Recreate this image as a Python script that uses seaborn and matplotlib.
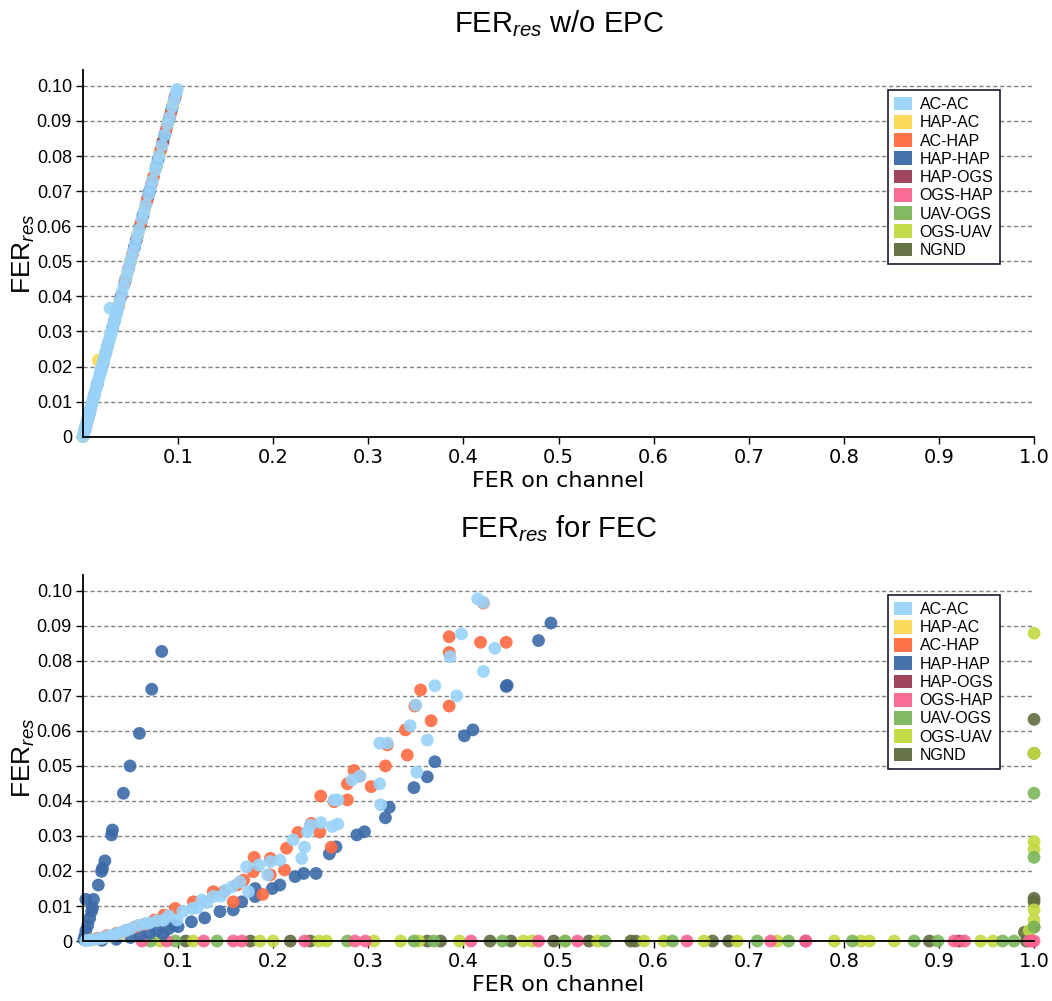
import matplotlib
matplotlib.use("Agg")
import matplotlib.pyplot as plt
import seaborn as sns
import pandas as pd
from matplotlib.patches import Patch
from matplotlib.ticker import FixedLocator, FuncFormatter

sns.set_theme(style="white")
plt.rcParams["font.family"] = ["Liberation Sans", "DejaVu Sans"]
plt.rcParams["mathtext.fontset"] = "custom"
plt.rcParams["mathtext.rm"] = "Liberation Sans"
plt.rcParams["mathtext.it"] = "Liberation Sans:italic"
for key in ("text.color", "axes.labelcolor", "xtick.color", "ytick.color"):
    plt.rcParams[key] = "black"

# ---- link types and colours -------------------------------------------------
LINKS = ["AC-AC", "HAP-AC", "AC-HAP", "HAP-HAP", "HAP-OGS",
         "OGS-HAP", "UAV-OGS", "OGS-UAV", "NGND"]
COLORS = ["#99d3fa", "#fdd853", "#fe6b40", "#3b6aa8", "#9a3b55",
          "#fb6490", "#7bb65a", "#c3d940", "#5f6d3e"]
# drawing order (last one ends up on top)
DRAW_ORDER = ["NGND", "OGS-UAV", "UAV-OGS", "HAP-OGS", "OGS-HAP",
              "HAP-HAP", "HAP-AC", "AC-HAP", "AC-AC"]
MARK_ALPHA = 0.9

# ---- upper panel: residual FER without EPC ----------------------------------
TOP_AC_AC_X = [0.000, 0.001, 0.002, 0.003, 0.004, 0.005, 0.006, 0.007, 0.008, 0.009,
               0.010, 0.011, 0.012, 0.013, 0.014, 0.015, 0.016, 0.017, 0.018, 0.019,
               0.020, 0.021, 0.022, 0.023, 0.024, 0.025, 0.026, 0.027, 0.028, 0.029,
               0.030, 0.031, 0.032, 0.033, 0.034, 0.035, 0.036, 0.037, 0.039, 0.041,
               0.043, 0.045, 0.047, 0.049, 0.051, 0.053, 0.055, 0.057, 0.059, 0.062,
               0.064, 0.066, 0.069, 0.071, 0.073, 0.076, 0.078, 0.080, 0.083, 0.086,
               0.089, 0.091, 0.094, 0.096, 0.098, 0.099, 0.0284]
TOP_AC_AC_Y = [0.000, 0.001, 0.002, 0.003, 0.004, 0.005, 0.006, 0.007, 0.008, 0.009,
               0.010, 0.011, 0.012, 0.013, 0.014, 0.015, 0.016, 0.017, 0.018, 0.019,
               0.020, 0.021, 0.022, 0.023, 0.024, 0.025, 0.026, 0.027, 0.028, 0.029,
               0.030, 0.031, 0.032, 0.033, 0.034, 0.035, 0.036, 0.037, 0.039, 0.041,
               0.043, 0.045, 0.047, 0.049, 0.051, 0.053, 0.055, 0.057, 0.059, 0.062,
               0.064, 0.066, 0.069, 0.071, 0.073, 0.076, 0.078, 0.080, 0.083, 0.086,
               0.089, 0.091, 0.094, 0.096, 0.098, 0.099, 0.0366]
TOP_HAP_AC_X = [0.000, 0.004, 0.009, 0.0161, 0.027, 0.038, 0.046, 0.058, 0.065, 0.074, 0.081, 0.089, 0.095]
TOP_HAP_AC_Y = [0.000, 0.004, 0.009, 0.0218, 0.027, 0.038, 0.046, 0.058, 0.065, 0.074, 0.081, 0.089, 0.095]
TOP_AC_HAP_X = [0.003, 0.012, 0.024, 0.037, 0.044, 0.052, 0.061, 0.067, 0.074, 0.082, 0.088, 0.092, 0.097]
TOP_AC_HAP_Y = [0.003, 0.012, 0.024, 0.037, 0.044, 0.052, 0.061, 0.067, 0.074, 0.082, 0.088, 0.092, 0.097]
TOP_HAP_HAP_X = [0.002, 0.015, 0.031, 0.045, 0.054, 0.063, 0.070, 0.079, 0.086, 0.093, 0.096]
TOP_HAP_HAP_Y = [0.002, 0.015, 0.031, 0.045, 0.054, 0.063, 0.070, 0.079, 0.086, 0.093, 0.096]
TOP_HAP_OGS_X = [0.006, 0.021, 0.040, 0.056, 0.068, 0.084, 0.091, 0.097]
TOP_HAP_OGS_Y = [0.006, 0.021, 0.040, 0.056, 0.068, 0.084, 0.091, 0.097]
TOP_OGS_HAP_X = [0.008, 0.026, 0.048, 0.072, 0.087]
TOP_OGS_HAP_Y = [0.008, 0.026, 0.048, 0.072, 0.087]
TOP_UAV_OGS_X = [0.005, 0.019, 0.035, 0.057, 0.077, 0.090]
TOP_UAV_OGS_Y = [0.005, 0.019, 0.035, 0.057, 0.077, 0.090]
TOP_OGS_UAV_X = [0.011, 0.029, 0.050, 0.069, 0.085]
TOP_OGS_UAV_Y = [0.011, 0.029, 0.050, 0.069, 0.085]
TOP_NGND_X = [0.007, 0.033, 0.060, 0.081, 0.094]
TOP_NGND_Y = [0.007, 0.033, 0.060, 0.081, 0.094]

# ---- lower panel: residual FER with FEC -------------------------------------
BOT_AC_AC_X = [0.415, 0.421, 0.398, 0.433, 0.386, 0.421, 0.370, 0.393, 0.350, 0.344,
               0.362, 0.312, 0.320, 0.351, 0.312, 0.291, 0.283, 0.313, 0.264, 0.268,
               0.250, 0.262, 0.268, 0.236, 0.233, 0.230, 0.239, 0.221, 0.207, 0.197,
               0.194, 0.185, 0.172, 0.174, 0.165, 0.157, 0.137, 0.125, 0.115, 0.099,
               0.085, 0.066, 0.058, 0.050, 0.045, 0.040, 0.035, 0.030, 0.025, 0.020,
               0.015, 0.010, 0.006, 0.003, 0.070, 0.078, 0.090, 0.105, 0.120, 0.130,
               0.145, 0.150]
BOT_AC_AC_Y = [0.0977, 0.0967, 0.0877, 0.0836, 0.0812, 0.0770, 0.0729, 0.0700, 0.0674, 0.0615,
               0.0574, 0.0565, 0.0565, 0.0482, 0.0449, 0.0471, 0.0460, 0.0389, 0.0403, 0.0403,
               0.0338, 0.0327, 0.0334, 0.0312, 0.0268, 0.0236, 0.0331, 0.0289, 0.0231, 0.0227,
               0.0189, 0.0217, 0.0212, 0.0141, 0.0169, 0.0155, 0.0127, 0.0117, 0.0093, 0.0060,
               0.0060, 0.0050, 0.0045, 0.0035, 0.0030, 0.0025, 0.0020, 0.0016, 0.0012, 0.0009,
               0.0006, 0.0004, 0.0002, 0.0001, 0.0052, 0.0058, 0.0072, 0.0085, 0.0095, 0.0110,
               0.0128, 0.0145]
BOT_HAP_AC_X = [0.010, 0.020, 0.030, 0.040]
BOT_HAP_AC_Y = [0.0003, 0.0008, 0.0014, 0.0022]
BOT_AC_HAP_X = [0.421, 0.385, 0.418, 0.445, 0.385, 0.355, 0.385, 0.349, 0.366, 0.339,
                0.320, 0.341, 0.318, 0.285, 0.291, 0.278, 0.303, 0.250, 0.264, 0.278,
                0.240, 0.249, 0.261, 0.226, 0.214, 0.212, 0.197, 0.197, 0.180, 0.179,
                0.189, 0.169, 0.162, 0.158, 0.148, 0.137, 0.116, 0.097, 0.085, 0.075,
                0.065, 0.055, 0.045, 0.035, 0.025, 0.015, 0.008]
BOT_AC_HAP_Y = [0.0965, 0.0869, 0.0853, 0.0853, 0.0824, 0.0717, 0.0671, 0.0671, 0.0629, 0.0603,
                0.0560, 0.0531, 0.0500, 0.0487, 0.0471, 0.0449, 0.0441, 0.0414, 0.0398, 0.0403,
                0.0336, 0.0311, 0.0268, 0.0310, 0.0265, 0.0203, 0.0189, 0.0236, 0.0239, 0.0198,
                0.0133, 0.0174, 0.0160, 0.0112, 0.0141, 0.0141, 0.0112, 0.0093, 0.0074, 0.0060,
                0.0048, 0.0040, 0.0030, 0.0022, 0.0015, 0.0008, 0.0004]
BOT_HAP_HAP_X = [0.0828, 0.0723, 0.0593, 0.0495, 0.0425, 0.031, 0.030, 0.023, 0.0205, 0.0195,
                 0.0161, 0.011, 0.003, 0.010, 0.009, 0.007, 0.005, 0.003, 0.002, 0.001,
                 0.084, 0.100, 0.114, 0.128, 0.144, 0.158, 0.167, 0.181, 0.181, 0.199,
                 0.207, 0.223, 0.232, 0.245, 0.259, 0.266, 0.288, 0.296, 0.318, 0.322,
                 0.348, 0.362, 0.370, 0.401, 0.410, 0.445, 0.446, 0.479, 0.492,
                 0.020, 0.035, 0.050, 0.060, 0.070, 0.078, 0.090, 0.095]
BOT_HAP_HAP_Y = [0.0827, 0.0719, 0.0593, 0.0500, 0.0422, 0.0317, 0.0303, 0.0229, 0.0208, 0.0199,
                 0.0160, 0.0119, 0.0119, 0.0095, 0.0085, 0.0065, 0.0045, 0.0030, 0.0015, 0.0005,
                 0.0020, 0.0041, 0.0055, 0.0066, 0.0084, 0.0089, 0.0112, 0.0127, 0.0150, 0.0150,
                 0.0160, 0.0184, 0.0193, 0.0193, 0.0249, 0.0269, 0.0303, 0.0312, 0.0352, 0.0382,
                 0.0438, 0.0469, 0.0512, 0.0586, 0.0603, 0.0727, 0.0730, 0.0858, 0.0908,
                 0.0002, 0.0005, 0.0010, 0.0015, 0.0022, 0.0030, 0.0035, 0.0045]
BOT_HAP_OGS_X = [0.760, 0.921, 0.998]
BOT_HAP_OGS_Y = [0.0, 0.0, 0.0]
BOT_OGS_HAP_X = [0.062, 0.088, 0.127, 0.158, 0.167, 0.233, 0.286, 0.297, 0.408, 0.479,
                 0.520, 0.635, 0.723, 0.760, 0.916, 0.927, 0.995, 1.000]
BOT_OGS_HAP_Y = [0.0, 0.0, 0.0, 0.0, 0.0, 0.0, 0.0, 0.0, 0.0, 0.0,
                 0.0, 0.0, 0.0, 0.0, 0.0, 0.0, 0.0, 0.0]
BOT_UAV_OGS_X = [0.071, 0.097, 0.141, 0.278, 0.348, 0.369, 0.441, 0.507, 0.549, 0.620,
                 0.709, 0.742, 0.809, 0.874, 0.899, 0.967, 0.979, 1.000, 1.000, 1.000]
BOT_UAV_OGS_Y = [0.0, 0.0, 0.0, 0.0, 0.0, 0.0, 0.0, 0.0, 0.0, 0.0,
                 0.0, 0.0, 0.0, 0.0, 0.0, 0.0, 0.0, 0.0422, 0.0239, 0.0040]
BOT_OGS_UAV_X = [0.081, 0.116, 0.186, 0.200, 0.248, 0.256, 0.306, 0.334, 0.353, 0.396,
                 0.463, 0.472, 0.507, 0.541, 0.590, 0.611, 0.653, 0.688, 0.730, 0.790,
                 0.818, 0.827, 0.853, 0.944, 0.957, 1.000, 1.000, 1.000, 1.000, 1.000,
                 1.000, 0.995]
BOT_OGS_UAV_Y = [0.0, 0.0, 0.0, 0.0, 0.0, 0.0, 0.0, 0.0, 0.0, 0.0,
                 0.0, 0.0, 0.0, 0.0, 0.0, 0.0, 0.0, 0.0, 0.0, 0.0,
                 0.0, 0.0, 0.0, 0.0, 0.0, 0.0879, 0.0536, 0.0284, 0.0262, 0.0089,
                 0.0060, 0.0030]
BOT_NGND_X = [0.108, 0.176, 0.218, 0.239, 0.362, 0.376, 0.428, 0.450, 0.495, 0.532,
              0.576, 0.581, 0.662, 0.679, 0.890, 0.992, 1.000, 1.000, 1.000, 1.000,
              1.000, 0.990]
BOT_NGND_Y = [0.0, 0.0, 0.0, 0.0, 0.0, 0.0, 0.0, 0.0, 0.0, 0.0,
              0.0, 0.0, 0.0, 0.0, 0.0, 0.0, 0.0633, 0.0536, 0.0122, 0.0112,
              0.0040, 0.0025]

Y_TICKS = [0.00, 0.01, 0.02, 0.03, 0.04, 0.05, 0.06, 0.07, 0.08, 0.09, 0.10]
X_TICKS = [0.1, 0.2, 0.3, 0.4, 0.5, 0.6, 0.7, 0.8, 0.9, 1.0]


def build_frame(series):
    rows = []
    for name in DRAW_ORDER:
        xs, ys = series[name]
        for x, y in zip(xs, ys):
            rows.append({"chan": x, "res": y, "link": name})
    return pd.DataFrame(rows)


top_df = build_frame({
    "AC-AC": (TOP_AC_AC_X, TOP_AC_AC_Y), "HAP-AC": (TOP_HAP_AC_X, TOP_HAP_AC_Y),
    "AC-HAP": (TOP_AC_HAP_X, TOP_AC_HAP_Y), "HAP-HAP": (TOP_HAP_HAP_X, TOP_HAP_HAP_Y),
    "HAP-OGS": (TOP_HAP_OGS_X, TOP_HAP_OGS_Y), "OGS-HAP": (TOP_OGS_HAP_X, TOP_OGS_HAP_Y),
    "UAV-OGS": (TOP_UAV_OGS_X, TOP_UAV_OGS_Y), "OGS-UAV": (TOP_OGS_UAV_X, TOP_OGS_UAV_Y),
    "NGND": (TOP_NGND_X, TOP_NGND_Y),
})
bot_df = build_frame({
    "AC-AC": (BOT_AC_AC_X, BOT_AC_AC_Y), "HAP-AC": (BOT_HAP_AC_X, BOT_HAP_AC_Y),
    "AC-HAP": (BOT_AC_HAP_X, BOT_AC_HAP_Y), "HAP-HAP": (BOT_HAP_HAP_X, BOT_HAP_HAP_Y),
    "HAP-OGS": (BOT_HAP_OGS_X, BOT_HAP_OGS_Y), "OGS-HAP": (BOT_OGS_HAP_X, BOT_OGS_HAP_Y),
    "UAV-OGS": (BOT_UAV_OGS_X, BOT_UAV_OGS_Y), "OGS-UAV": (BOT_OGS_UAV_X, BOT_OGS_UAV_Y),
    "NGND": (BOT_NGND_X, BOT_NGND_Y),
})

palette = dict(zip(LINKS, COLORS))

fig = plt.figure(figsize=(10.52, 10.01), dpi=100)
ax_top = fig.add_axes([0.0789, 0.5637, 0.904, 0.3663])
ax_bot = fig.add_axes([0.0789, 0.0599, 0.904, 0.3656])


def style_axis(ax, title):
    ax.set_xlim(0, 1.0)
    ax.set_ylim(0, 0.1045)
    ax.xaxis.set_major_locator(FixedLocator(X_TICKS))
    ax.yaxis.set_major_locator(FixedLocator(Y_TICKS))
    ax.xaxis.set_major_formatter(FuncFormatter(lambda v, p: f"{v:.1f}"))
    ax.yaxis.set_major_formatter(FuncFormatter(lambda v, p: "0" if abs(v) < 1e-9 else f"{v:.2f}"))
    ax.yaxis.grid(True, linestyle=(0, (3, 2)), color="#808080", linewidth=1.0)
    ax.xaxis.grid(False)
    ax.set_axisbelow(True)
    for side in ("top", "right"):
        ax.spines[side].set_visible(False)
    for side in ("left", "bottom"):
        ax.spines[side].set_color("black")
        ax.spines[side].set_linewidth(1.3)
        ax.spines[side].set_zorder(5)
    ax.tick_params(axis="both", which="major", direction="out", length=5, width=1,
                   color="black", labelcolor="black", bottom=True, left=True, pad=3)
    for lab in ax.get_xticklabels():
        lab.set_fontfamily("DejaVu Sans")
        lab.set_fontsize(14)
    for lab in ax.get_yticklabels():
        lab.set_fontfamily("Liberation Sans")
        lab.set_fontsize(13)
    ax.set_xlabel("FER on channel", fontsize=16, fontfamily="DejaVu Sans", labelpad=3)
    ax.set_ylabel("FER$_{res}$", fontsize=19, labelpad=0)
    ax.set_title(title, fontsize=21, pad=27)
    handles = [Patch(facecolor=palette[l], edgecolor="none", alpha=0.95, label=l) for l in LINKS]
    leg = ax.legend(handles=handles, loc="upper right", bbox_to_anchor=(0.964, 0.945),
                    fontsize=11.5, frameon=True, fancybox=False, framealpha=1,
                    edgecolor="#1a1a2e", borderpad=0.4, labelspacing=0.18,
                    handlelength=1.15, handleheight=0.95, handletextpad=0.45,
                    borderaxespad=0)
    leg.get_frame().set_linewidth(1.2)


for ax, df, title in ((ax_top, top_df, "FER$_{res}$ w/o EPC"),
                      (ax_bot, bot_df, "FER$_{res}$ for FEC")):
    sns.scatterplot(data=df, x="chan", y="res", hue="link", palette=palette,
                    s=85, alpha=MARK_ALPHA, linewidth=0, legend=False, ax=ax, clip_on=False)
    style_axis(ax, title)

fig.savefig("out.png", dpi=100)
